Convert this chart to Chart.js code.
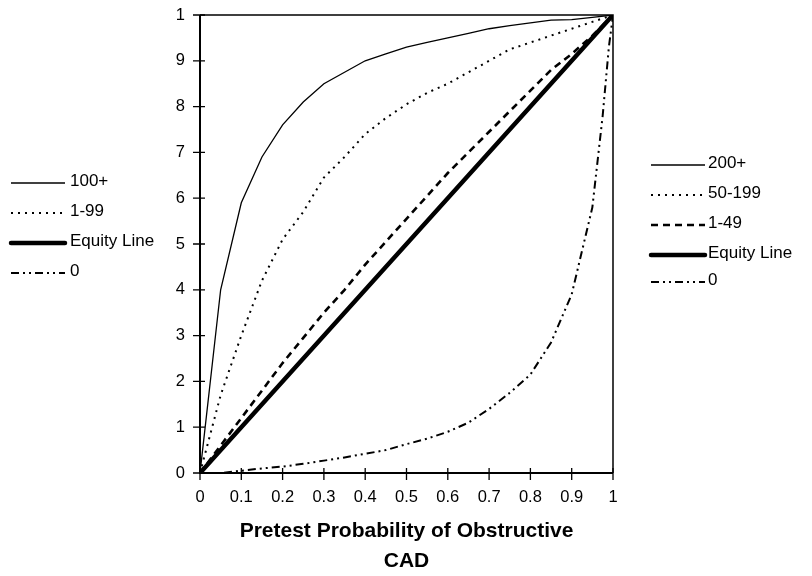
<!DOCTYPE html>
<html>
<head>
<meta charset="utf-8">
<script src="https://cdn.jsdelivr.net/npm/chart.js@4.4.1/dist/chart.umd.min.js"></script>
<style>
  html, body { margin: 0; padding: 0; background: #fff; }
  #wrap { width: 812px; height: 576px; position: relative; }
</style>
</head>
<body>
<div id="wrap"><canvas id="chart" width="812" height="576"></canvas></div>
<script>
// ─── Data ────────────────────────────────────────────────────────
const xValues = [0, 0.05, 0.1, 0.15, 0.2, 0.25, 0.3, 0.35, 0.4, 0.45, 0.5,
  0.55, 0.6, 0.65, 0.7, 0.75, 0.8, 0.85, 0.9, 0.95, 1];

const series200plus = [0, 0.40, 0.59, 0.69, 0.76, 0.81, 0.85, 0.875, 0.90, 0.915, 0.93,
  0.94, 0.95, 0.96, 0.97, 0.977, 0.983, 0.989, 0.99, 0.995, 1];

const series50to199 = [0, 0.17, 0.30, 0.42, 0.51, 0.57, 0.645, 0.69, 0.74, 0.775, 0.805,
  0.83, 0.85, 0.875, 0.90, 0.925, 0.94, 0.955, 0.97, 0.985, 1];

const series1to49 = [0, 0.06, 0.12, 0.18, 0.24, 0.295, 0.35, 0.40, 0.455, 0.505, 0.555,
  0.605, 0.655, 0.70, 0.745, 0.79, 0.835, 0.88, 0.915, 0.955, 1];

const equityX = [0, 1];
const equityY = [0, 1];

const zeroX = [0, 0.05, 0.1, 0.15, 0.2, 0.25, 0.3, 0.35, 0.4, 0.45, 0.5, 0.55, 0.6,
  0.65, 0.7, 0.75, 0.8, 0.85, 0.9, 0.95, 0.975, 0.99, 1];
const zeroY = [0, 0, 0.005, 0.01, 0.014, 0.02, 0.027, 0.034, 0.042, 0.05, 0.063, 0.075, 0.09,
  0.11, 0.14, 0.175, 0.215, 0.285, 0.39, 0.58, 0.78, 0.93, 1];

const xTicks = [0, 0.1, 0.2, 0.3, 0.4, 0.5, 0.6, 0.7, 0.8, 0.9, 1];
const xTickLabels = ["0", "0.1", "0.2", "0.3", "0.4", "0.5", "0.6", "0.7", "0.8", "0.9", "1"];
const yTickLabels = ["0", "1", "2", "3", "4", "5", "6", "7", "8", "9", "1"];

const leftLegendLabels = ["100+", "1-99", "Equity Line", "0"];
const leftLegendStyles = ["solid", "dotted", "thick", "dashdot"];
const rightLegendLabels = ["200+", "50-199", "1-49", "Equity Line", "0"];
const rightLegendStyles = ["solid", "dotted", "dashed", "thick", "dashdot"];

// ─── Line styles ─────────────────────────────────────────────────
const STYLES = {
  solid:   { width: 1.3, dash: [] },
  dotted:  { width: 2, dash: [2, 5] },
  dashed:  { width: 2.6, dash: [7, 5] },
  thick:   { width: 4.5, dash: [] },
  dashdot: { width: 2, dash: [8, 4, 2, 4, 2, 4] },
};

const FONT = "'Liberation Sans', Arial, sans-serif";

function toPoints(xs, ys) {
  return xs.map((x, i) => ({ x, y: ys[i] }));
}

function lineDataset(label, xs, ys, style) {
  const s = STYLES[style];
  return {
    label,
    data: toPoints(xs, ys),
    borderColor: "#000",
    borderWidth: s.width,
    borderDash: s.dash,
    borderCapStyle: style === "thick" ? "round" : "butt",
    pointRadius: 0,
    tension: 0,
    fill: false,
  };
}

// ─── Plugins ─────────────────────────────────────────────────────
const frameAndTicks = {
  id: "frameAndTicks",
  afterDatasetsDraw(chart) {
    const { ctx, chartArea: a, scales } = chart;
    ctx.save();
    ctx.strokeStyle = "#000";
    ctx.setLineDash([]);
    // top + right border
    ctx.lineWidth = 1.5;
    ctx.beginPath();
    ctx.moveTo(a.left, a.top);
    ctx.lineTo(a.right, a.top);
    ctx.lineTo(a.right, a.bottom);
    ctx.stroke();
    // axes
    ctx.lineWidth = 2;
    ctx.beginPath();
    ctx.moveTo(a.left, a.top);
    ctx.lineTo(a.left, a.bottom);
    ctx.lineTo(a.right, a.bottom);
    ctx.stroke();
    // tick marks crossing the axes
    ctx.lineWidth = 1.3;
    ctx.beginPath();
    xTicks.forEach((v) => {
      const px = scales.x.getPixelForValue(v);
      ctx.moveTo(px, a.bottom - 5);
      ctx.lineTo(px, a.bottom + 7);
    });
    xTicks.forEach((v) => {
      const py = scales.y.getPixelForValue(v);
      ctx.moveTo(a.left - 7, py);
      ctx.lineTo(a.left + 5, py);
    });
    ctx.stroke();
    ctx.restore();
  },
};

function drawLegend(ctx, labels, styles, x0, x1, rows, textX) {
  ctx.font = "17px " + FONT;
  ctx.textBaseline = "middle";
  ctx.textAlign = "left";
  labels.forEach((label, i) => {
    const s = STYLES[styles[i]];
    const y = rows[i];
    ctx.save();
    ctx.strokeStyle = "#000";
    ctx.lineWidth = s.width;
    ctx.setLineDash(s.dash);
    ctx.lineCap = styles[i] === "thick" ? "round" : "butt";
    ctx.beginPath();
    ctx.moveTo(x0, y + 2);
    ctx.lineTo(x1, y + 2);
    ctx.stroke();
    ctx.restore();
    ctx.fillStyle = "#000";
    ctx.fillText(label, textX, y);
  });
}

const sideLegends = {
  id: "sideLegends",
  afterDraw(chart) {
    const ctx = chart.ctx;
    drawLegend(ctx, leftLegendLabels, leftLegendStyles, 11, 65, [181, 211, 241, 271], 70);
    drawLegend(ctx, rightLegendLabels, rightLegendStyles, 651, 705, [163, 193, 223, 253, 280], 708);
  },
};

// ─── Chart ───────────────────────────────────────────────────────
new Chart(document.getElementById("chart"), {
  type: "line",
  data: {
    datasets: [
      lineDataset("Equity Line", equityX, equityY, "thick"),
      lineDataset("200+", xValues, series200plus, "solid"),
      lineDataset("50-199", xValues, series50to199, "dotted"),
      lineDataset("1-49", xValues, series1to49, "dashed"),
      lineDataset("0", zeroX, zeroY, "dashdot"),
    ],
  },
  options: {
    responsive: false,
    animation: false,
    layout: { padding: { left: 160, right: 199, top: 15, bottom: 0 } },
    plugins: { legend: { display: false }, tooltip: { enabled: false } },
    scales: {
      x: {
        type: "linear",
        min: 0,
        max: 1,
        afterFit: (scale) => {
          scale.height = 103;
          scale.paddingLeft = 0;
          scale.paddingRight = 0;
        },
        afterBuildTicks: (scale) => { scale.ticks = xTicks.map((v) => ({ value: v })); },
        grid: { display: false, drawTicks: false },
        border: { display: false },
        ticks: {
          color: "#000",
          padding: 15,
          maxRotation: 0,
          font: { family: FONT, size: 16.5 },
          callback: (v) => xTickLabels[Math.round(v * 10)],
        },
        title: {
          display: true,
          text: ["Pretest Probability of Obstructive", "CAD"],
          color: "#000",
          font: { family: FONT, size: 21, weight: "bold", lineHeight: "30px" },
          padding: { top: 0, bottom: 0 },
        },
      },
      y: {
        type: "linear",
        min: 0,
        max: 1,
        afterFit: (scale) => {
          scale.width = 40;
          scale.paddingTop = 0;
          scale.paddingBottom = 0;
        },
        afterBuildTicks: (scale) => { scale.ticks = xTicks.map((v) => ({ value: v })); },
        grid: { display: false, drawTicks: false },
        border: { display: false },
        ticks: {
          color: "#000",
          padding: 15,
          font: { family: FONT, size: 16.5 },
          callback: (v) => yTickLabels[Math.round(v * 10)],
        },
      },
    },
  },
  plugins: [frameAndTicks, sideLegends],
});
</script>
</body>
</html>
